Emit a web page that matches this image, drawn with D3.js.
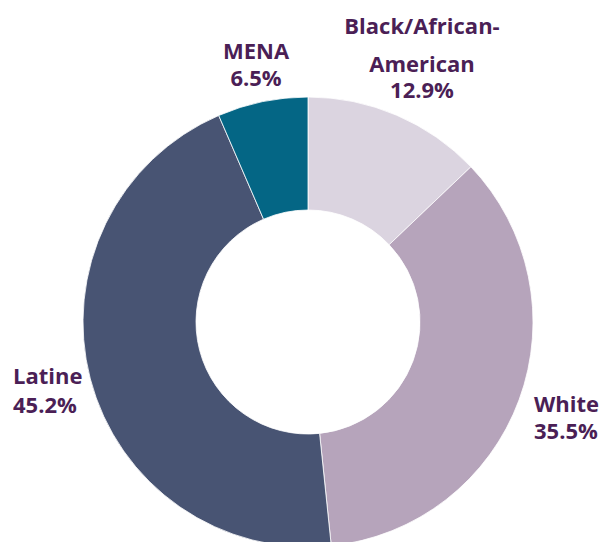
<!DOCTYPE html>
<html>
<head>
<meta charset="utf-8">
<script src="https://cdn.jsdelivr.net/npm/d3@7"></script>
<style>
  body { margin: 0; background: #fff; }
  text { font-family: "Open Sans", Lato, sans-serif; font-weight: 700; fill: #4b1f56; font-size: 22px; }
</style>
</head>
<body>
<div id="chart"></div>
<script>
// data
const groups = ["Black/African-American", "White", "Latine", "MENA"];
const shares = [12.9, 35.5, 45.2, 6.5];
const colors = ["#dbd4e0", "#b6a4bb", "#485473", "#046685"];

/** CONSTANTS */
const width = 600;
const height = 542;
const cx = 308, cy = 322;
const outerR = 225, innerR = 112;

const data = groups.map((g, i) => ({ name: g, value: shares[i], color: colors[i] }));

const pie = d3.pie()
  .value(d => d.value)
  .sort(null);

const arc = d3.arc()
  .innerRadius(innerR)
  .outerRadius(outerR);

const svg = d3.select("#chart")
  .append("svg")
  .attr("width", width)
  .attr("height", height);

const g = svg.append("g")
  .attr("transform", `translate(${cx},${cy})`);

const arcs = pie(data);

g.selectAll("path")
  .data(arcs)
  .join("path")
  .attr("d", arc)
  .attr("fill", d => d.data.color)
  .attr("stroke", "#fff")
  .attr("stroke-width", 0.8);

// label layout (relative to centre) - lines of text per slice
const labelLines = [
  ["Black/African-", "American", "12.9%"],
  ["White", "35.5%"],
  ["Latine", "45.2%"],
  ["MENA", "6.5%"]
];
const labelPos = [
  { x: 114, y: -288, anchor: "middle", gaps: [38, 26] },
  { x: 226, y: 90, anchor: "start", gaps: [27] },
  { x: -295, y: 62, anchor: "start", gaps: [29] },
  { x: -52, y: -263, anchor: "middle", gaps: [27] }
];

const labels = g.selectAll("g.label")
  .data(arcs)
  .join("g")
  .attr("class", "label")
  .attr("transform", (d, i) => `translate(${labelPos[i].x},${labelPos[i].y})`);

labels.each(function (d, i) {
  const sel = d3.select(this);
  let y = 0;
  labelLines[i].forEach((line, j) => {
    if (j > 0) y += labelPos[i].gaps[j - 1];
    sel.append("text")
      .attr("y", y)
      .attr("text-anchor", labelPos[i].anchor)
      .text(line);
  });
});
</script>
</body>
</html>
